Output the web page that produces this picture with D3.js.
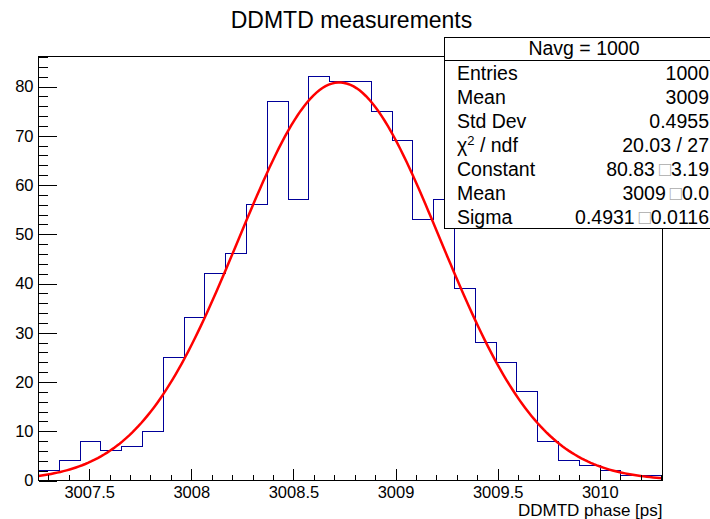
<!DOCTYPE html>
<html>
<head>
<meta charset="utf-8">
<script src="https://cdn.jsdelivr.net/npm/d3@7"></script>
<style>
body { margin: 0; background: #fff; }
svg { display: block; font-family: "Liberation Sans", Arial, Helvetica, sans-serif; }
</style>
</head>
<body>
<div id="chart"></div>
<script>
// histogram contents, 30 bins
const counts = [2, 4, 8, 6, 7, 10, 25, 33, 42, 46, 56, 77, 57, 82, 81,
                81, 75, 69, 53, 57, 39, 28, 24, 18, 8, 4, 3, 2, 1, 1];
const xRange = [3007.252, 3010.307];
const yRange = [0, 86.1];
const xTicks = [3007.5, 3008, 3008.5, 3009, 3009.5, 3010];
const yTicks = [0, 10, 20, 30, 40, 50, 60, 70, 80];

// gaus fit parameters
const fitConstant = 80.83;
const fitMean = 3008.725;
const fitSigma = 0.4931;

const statsTitle = "Navg = 1000";
const statsLabels = ["Entries", "Mean", "Std Dev", "chi2", "Constant", "Mean", "Sigma"];
const statsValues = ["1000", "3009", "0.4955", "20.03 / 27", "80.83", "3009", "0.4931"];
const statsErrors = [null, null, null, null, "3.19", "0.0", "0.0116"];

const width = 710;
const height = 519;
const margin = {top: 56.5, right: 47.5, bottom: 38.5, left: 38.5};

const svg = d3.select("#chart")
    .append("svg")
        .attr("width", width)
        .attr("height", height);

const xScale = d3.scaleLinear()
    .domain(xRange)
    .range([margin.left, width - margin.right]);

const yScale = d3.scaleLinear()
    .domain(yRange)
    .range([height - margin.bottom, margin.top]);

// title
svg.append("text")
    .attr("x", 351.5)
    .attr("y", 28)
    .attr("text-anchor", "middle")
    .attr("font-size", 23)
    .text("DDMTD measurements");

// histogram outline (step)
const binWidth = (xRange[1] - xRange[0]) / counts.length;
const steps = counts.map((c, i) => [xRange[0] + i * binWidth, c]);
steps.push([xRange[1], counts[counts.length - 1]]);

svg.append("path")
    .datum(steps)
    .attr("fill", "none")
    .attr("stroke", "#000099")
    .attr("stroke-width", 1)
    .attr("shape-rendering", "crispEdges")
    .attr("d", d3.line()
        .x(d => xScale(d[0]))
        .y(d => yScale(d[1]))
        .curve(d3.curveStepAfter));

// fit curve
const nPts = 200;
const fitPts = d3.range(nPts + 1).map(i => {
    const x = xRange[0] + (xRange[1] - xRange[0]) * i / nPts;
    return [x, fitConstant * Math.exp(-0.5 * Math.pow((x - fitMean) / fitSigma, 2))];
});

svg.append("path")
    .datum(fitPts)
    .attr("fill", "none")
    .attr("stroke", "#ff0000")
    .attr("stroke-width", 2.5)
    .attr("d", d3.line()
        .x(d => xScale(d[0]))
        .y(d => yScale(d[1])));

// x axis: major + minor ticks pointing up
const xBase = height - margin.bottom;
const xMinor = d3.range(Math.ceil(xRange[0] * 10), Math.floor(xRange[1] * 10) + 1).map(v => v / 10);

svg.append("g")
    .attr("class", "x-minor")
    .attr("transform", "translate(0," + xBase + ")")
    .call(d3.axisBottom(xScale)
        .tickValues(xMinor)
        .tickSize(-6)
        .tickSizeOuter(0)
        .tickFormat(""));

svg.append("g")
    .attr("class", "x-axis")
    .attr("transform", "translate(0," + xBase + ")")
    .call(d3.axisBottom(xScale)
        .tickValues(xTicks)
        .tickSize(-12)
        .tickSizeOuter(0)
        .tickPadding(5.5)
        .tickFormat(d => String(d)));

// y axis: major + minor ticks pointing right
const yMinor = d3.range(0, 87, 2);

svg.append("g")
    .attr("class", "y-minor")
    .attr("transform", "translate(" + margin.left + ",0)")
    .call(d3.axisLeft(yScale)
        .tickValues(yMinor)
        .tickSize(-9.5)
        .tickSizeOuter(0)
        .tickFormat(""));

svg.append("g")
    .attr("class", "y-axis")
    .attr("transform", "translate(" + margin.left + ",0)")
    .call(d3.axisLeft(yScale)
        .tickValues(yTicks)
        .tickSize(-18.5)
        .tickSizeOuter(0)
        .tickPadding(5)
        .tickFormat(d => String(d)));

svg.selectAll(".x-axis text, .y-axis text")
    .attr("font-family", "Liberation Sans, Arial, Helvetica, sans-serif")
    .attr("font-size", 16.5)
    .attr("fill", "#000");
svg.selectAll(".domain").remove();
svg.selectAll(".tick line").attr("stroke", "#000").attr("shape-rendering", "crispEdges");

// frame
svg.append("rect")
    .attr("x", margin.left)
    .attr("y", margin.top)
    .attr("width", width - margin.right - margin.left)
    .attr("height", height - margin.bottom - margin.top)
    .attr("fill", "none")
    .attr("stroke", "#000")
    .attr("shape-rendering", "crispEdges");

// x axis title
svg.append("text")
    .attr("x", width - margin.right)
    .attr("y", 516)
    .attr("text-anchor", "end")
    .attr("font-size", 17)
    .text("DDMTD phase [ps]");

// stats box
const box = svg.append("g").attr("class", "stats");
const boxLeft = 444.5, boxTop = 37.5, boxBottom = 228.5, headerLine = 60.5;
const rowH = (boxBottom - headerLine) / statsLabels.length;

box.append("rect")
    .attr("x", boxLeft)
    .attr("y", boxTop)
    .attr("width", 300)
    .attr("height", boxBottom - boxTop)
    .attr("fill", "#fff")
    .attr("stroke", "#000")
    .attr("shape-rendering", "crispEdges");

box.append("line")
    .attr("x1", boxLeft).attr("x2", width)
    .attr("y1", headerLine).attr("y2", headerLine)
    .attr("stroke", "#000")
    .attr("shape-rendering", "crispEdges");

box.append("text")
    .attr("x", 584)
    .attr("y", 54.5)
    .attr("text-anchor", "middle")
    .attr("font-size", 19.5)
    .text(statsTitle);

statsLabels.forEach((lab, i) => {
    const y = headerLine + rowH * i + 19.5;
    const t = box.append("text")
        .attr("x", boxLeft + 12.5)
        .attr("y", y)
        .attr("font-size", 19.5);
    if (lab === "chi2") {
        t.append("tspan").text("\u03c7");
        t.append("tspan").attr("dy", -7).attr("font-size", 13).text("2");
        t.append("tspan").attr("dy", 7).text(" / ndf");
    } else {
        t.text(lab);
    }

    const v = box.append("text")
        .attr("x", 709)
        .attr("y", y)
        .attr("text-anchor", "end")
        .attr("font-size", 19.5);
    v.append("tspan").text(statsValues[i]);
    if (statsErrors[i] !== null) {
        v.append("tspan").attr("dx", 4).attr("font-size", 20).attr("fill", "#aaa").text("\u25a1");
        v.append("tspan").attr("dx", 0).text(statsErrors[i]);
    }
});
</script>
</body>
</html>
